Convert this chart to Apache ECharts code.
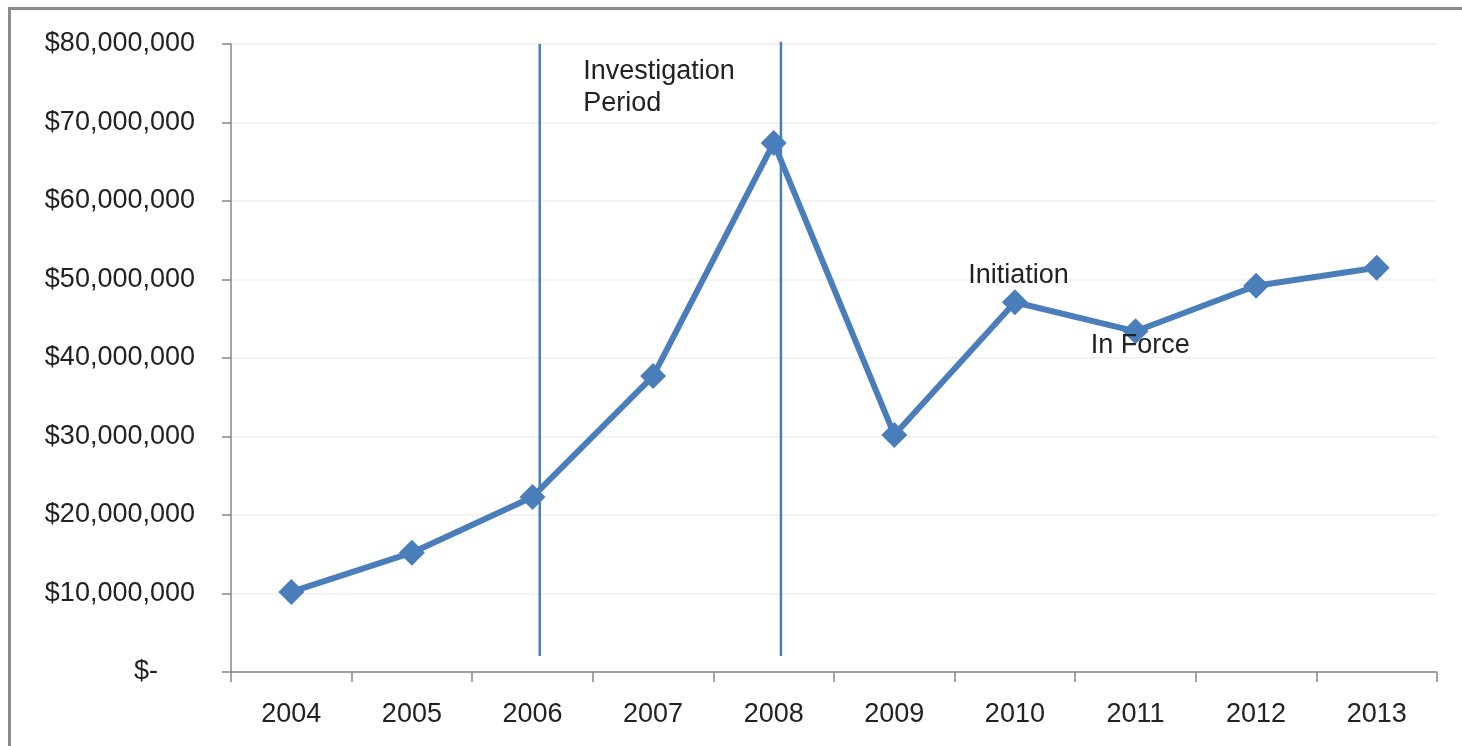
<!DOCTYPE html>
<html>
<head>
<meta charset="utf-8">
<script src="https://cdn.jsdelivr.net/npm/echarts@6/dist/echarts.min.js"></script>
<style>
  html, body { margin: 0; padding: 0; background: #fff; }
  #chart { width: 1462px; height: 746px; }
  #frame {
    position: absolute; left: 8px; top: 7px; right: 0; bottom: 0;
    border-left: 3px solid #8a8a8a; border-top: 3px solid #8a8a8a;
    pointer-events: none;
  }
</style>
</head>
<body>
<div id="chart"></div>
<div id="frame"></div>
<script>
// Yearly totals, 2004-2013
const years = ['2004', '2005', '2006', '2007', '2008', '2009', '2010', '2011', '2012', '2013'];
const totals = [10.2e6, 15.2e6, 22.3e6, 37.7e6, 67.4e6, 30.2e6, 47.1e6, 43.4e6, 49.2e6, 51.5e6];

// Y-axis scale
const yMin = 0;
const yMax = 80e6;
const yStep = 10e6;

// Investigation period boundaries, on a 0..10 slot scale (slot i centre = i + 0.5)
const periodBounds = [2.56, 4.56];
const periodTop = [80e6, 80.3e6];
const periodBottom = 2.05e6;

// Text notes placed in the same slot/value space
const notes = [
  { text: 'Investigation\nPeriod', x: 2.92, y: 74.4e6, pos: 'right' },
  { text: 'Initiation', x: 6.53, y: 50.5e6, pos: 'inside' },
  { text: 'In Force', x: 7.54, y: 41.6e6, pos: 'inside' }
];

const FONT = '"Liberation Sans", Arial, sans-serif';
const TEXT = '#222222';
const BLUE = '#4a7ebb';
const AXIS = '#878787';
const FS = 27;

function money(v) {
  if (v === 0) return '{z|$-}';
  return '$' + v.toLocaleString('en-US');
}

const chart = echarts.init(document.getElementById('chart'), null, { renderer: 'canvas' });

const periodSeries = periodBounds.map((x, i) => ({
  type: 'line',
  xAxisIndex: 1,
  yAxisIndex: 0,
  data: [[x, periodTop[i]], [x, periodBottom]],
  symbol: 'none',
  clip: false,
  silent: true,
  z: 5,
  lineStyle: { color: BLUE, width: 2.5 }
}));

chart.setOption({
  animation: false,
  grid: { left: 231, right: 25, top: 44, bottom: 74, containLabel: false },
  xAxis: [
    {
      type: 'category',
      data: years,
      boundaryGap: true,
      axisLine: { lineStyle: { color: AXIS, width: 1.5 } },
      axisTick: { show: true, length: 10, lineStyle: { color: AXIS, width: 1.5 } },
      axisLabel: { color: TEXT, fontFamily: FONT, fontSize: FS, margin: 29 },
      splitLine: { show: false }
    },
    {
      type: 'value',
      min: 0,
      max: 10,
      show: false
    }
  ],
  yAxis: {
    type: 'value',
    min: yMin,
    max: yMax,
    interval: yStep,
    axisLine: { show: true, lineStyle: { color: AXIS, width: 1.5 } },
    axisTick: { show: true, length: 9, lineStyle: { color: AXIS, width: 1.5 } },
    axisLabel: {
      color: TEXT, fontFamily: FONT, fontSize: FS, margin: 36,
      formatter: money,
      rich: { z: { color: TEXT, fontFamily: FONT, fontSize: FS, padding: [0, 37, 0, 0] } }
    },
    splitLine: { show: true, lineStyle: { color: '#efefef', width: 1.5 } }
  },
  series: [
    {
      type: 'line',
      data: totals,
      symbol: 'diamond',
      symbolSize: 26,
      z: 3,
      lineStyle: { color: BLUE, width: 6 },
      itemStyle: { color: BLUE }
    },
    ...periodSeries,
    {
      type: 'scatter',
      xAxisIndex: 1,
      yAxisIndex: 0,
      symbolSize: 0,
      silent: true,
      z: 6,
      itemStyle: { opacity: 1 },
      data: notes.map(n => ({
        value: [n.x, n.y],
        name: n.text,
        label: {
          show: true,
          position: n.pos,
          distance: 0,
          formatter: '{b}',
          color: TEXT,
          opacity: 1,
          textBorderWidth: 0,
          fontFamily: FONT,
          fontSize: FS,
          lineHeight: 32,
          align: n.pos === 'right' ? 'left' : 'center'
        }
      }))
    }
  ]
});
</script>
</body>
</html>
